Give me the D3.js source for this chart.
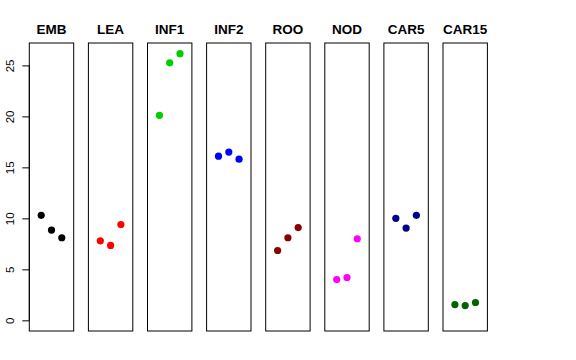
<!DOCTYPE html>
<html><head><meta charset="utf-8">
<script src="https://cdn.jsdelivr.net/npm/d3@7"></script>
<style>body{margin:0;background:#fff}svg{display:block}</style>
</head><body>
<svg id="c" width="576" height="360"></svg>
<script>
const categories = ["EMB","LEA","INF1","INF2","ROO","NOD","CAR5","CAR15"];
const colors = ["#000000","#FF0000","#00CD00","#0000FF","#8B0000","#FF00FF","#00008B","#006400"];
const EMB = [10.3, 8.85, 8.1];
const LEA = [7.8, 7.35, 9.4];
const INF1 = [20.1, 25.25, 26.15];
const INF2 = [16.1, 16.5, 15.8];
const ROO = [6.85, 8.1, 9.1];
const NOD = [4.0, 4.2, 8.0];
const CAR5 = [10.0, 9.05, 10.3];
const CAR15 = [1.55, 1.45, 1.75];
const series = [EMB, LEA, INF1, INF2, ROO, NOD, CAR5, CAR15];
const yTicks = [0, 5, 10, 15, 20, 25];

const svg = d3.select("#c");
const pTop = 43, pBottom = 331;
const ymin = 0, ymax = 26.15, ext = 0.04*(ymax-ymin);
const y = d3.scaleLinear().domain([ymin-ext, ymax+ext]).range([pBottom, pTop]);
const panelW = 44.4, pitch = 59.1, left0 = 29.3;
const xb = d3.scaleBand().domain(categories).range([left0, left0 + pitch*7 + panelW]).paddingInner(1 - panelW/pitch).paddingOuter(0);

categories.forEach((cat, i) => {
  const x0 = xb(cat);
  const x = d3.scaleLinear().domain([-0.16, 4.16]).range([x0, x0 + xb.bandwidth()]);
  const g = svg.append("g");
  g.append("rect").attr("x", x0).attr("y", pTop).attr("width", xb.bandwidth()).attr("height", pBottom-pTop)
    .attr("fill", "none").attr("stroke", "#000").attr("stroke-width", 1);
  g.selectAll("circle").data(series[i]).join("circle")
    .attr("cx", (d, j) => x(j+1)).attr("cy", d => y(d)).attr("r", 3.6).attr("fill", colors[i]);
  g.append("text").attr("x", x0 + xb.bandwidth()/2).attr("y", 34).attr("text-anchor", "middle")
    .attr("font-family", "Liberation Sans, Arial, sans-serif").attr("font-weight", "bold").attr("font-size", 13.5)
    .text(cat);
});

const ax = svg.append("g").attr("transform", `translate(${left0},0)`)
  .call(d3.axisLeft(y).tickValues(yTicks).tickSize(7).tickPadding(0).tickFormat(d3.format("d")));
ax.select(".domain").remove();
ax.append("line").attr("x1", 0).attr("x2", 0).attr("y1", y(0)).attr("y2", y(25)).attr("stroke", "#000");
ax.selectAll(".tick line").attr("stroke", "#000");
ax.selectAll(".tick text").attr("font-family", "Liberation Sans, Arial, sans-serif").attr("font-size", 11.5)
  .attr("fill", "#000").attr("x", 0).attr("dy", 0)
  .attr("transform", "translate(-18,0) rotate(-90)").attr("text-anchor", "middle").attr("dominant-baseline", "middle");
</script>
</body></html>
